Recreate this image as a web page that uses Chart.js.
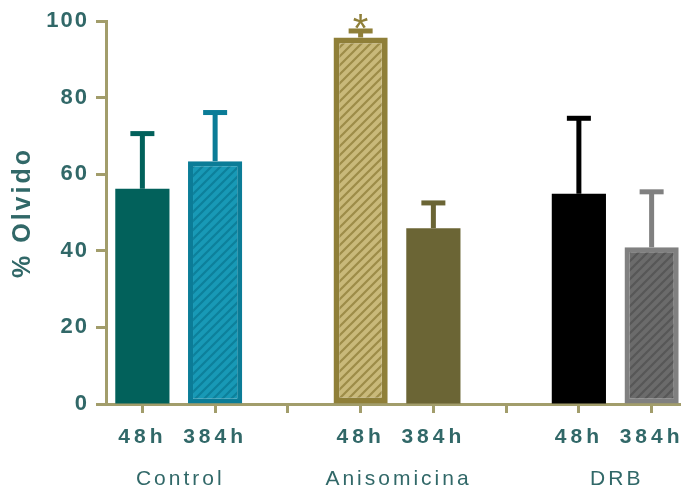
<!DOCTYPE html>
<html>
<head>
<meta charset="utf-8">
<script src="https://cdn.jsdelivr.net/npm/chart.js@4.4.0/dist/chart.umd.min.js"></script>
<style>
  html, body { margin: 0; padding: 0; background: #fff; overflow: hidden; width: 681px; height: 489px; }
  #wrap { position: absolute; left: 0; top: 0; width: 688px; height: 489px; }
</style>
</head>
<body>
<div id="wrap"><canvas id="c" width="688" height="489"></canvas></div>
<script>
// ---- data ----
const tickLabels = ['48h', '384h', '', '48h', '384h', '', '48h', '384h'];
const groupLabels = ['Control', 'Anisomicina', 'DRB'];
const groupCenters = [0.5, 3.5, 6.5];
const means = [56.2, 63.4, null, 95.7, 45.9, null, 54.9, 40.9];
const errUpper = [70.6, 76.1, null, 97.4, 52.5, null, 74.6, 55.4];
const significant = [false, false, false, true, false, false, false, false];
const yTicks = [0, 20, 40, 60, 80, 100];

// ---- styles ----
const TEXT = '#316868';
const AXIS = '#a29d6b';
const borderCols = ['#02615b', '#0b7c97', null, '#8f7f38', '#6b6535', null, '#000000', '#808080'];

function hatch(bg, fg) {
  const c = document.createElement('canvas');
  c.width = 9; c.height = 9;
  const x = c.getContext('2d');
  x.fillStyle = bg; x.fillRect(0, 0, 9, 9);
  x.strokeStyle = fg; x.lineWidth = 2.2;
  x.beginPath();
  x.moveTo(-1, 10); x.lineTo(10, -1);
  x.moveTo(-3, 3); x.lineTo(3, -3);
  x.moveTo(6, 12); x.lineTo(12, 6);
  x.stroke();
  return x.createPattern(c, 'repeat');
}
const fills = [
  '#02615b',
  hatch('#1899b6', '#0d809b'),
  null,
  hatch('#c9b97a', '#9d8c48'),
  '#6b6535',
  null,
  '#000000',
  hatch('#6b6b6b', '#575757')
];
const borderW = [0, 5, 0, 6, 0, 0, 0, 5];

function spaced(obj, name, sp) {
  const key = '__w_' + name;
  if (obj[key]) return;
  const orig = obj[name];
  obj[name] = function (...a) {
    const c = this.ctx;
    c.save(); c.letterSpacing = sp;
    const r = orig.apply(this, a);
    c.restore();
    return r;
  };
  obj[key] = true;
}

const extras = {
  id: 'extras',
  beforeDraw(chart) {
    spaced(chart.scales.x, 'drawLabels', '4px');
    spaced(chart.scales.y, 'drawLabels', '2px');
    spaced(chart.scales.y, 'drawTitle', '3px');
  },
  afterDatasetsDraw(chart) {
    const ctx = chart.ctx;
    const meta = chart.getDatasetMeta(0);
    const ys = chart.scales.y;
    ctx.save();
    means.forEach((m, i) => {
      if (m == null) return;
      const x = meta.data[i].x;
      const yb = ys.getPixelForValue(m);
      const yt = ys.getPixelForValue(errUpper[i]);
      ctx.fillStyle = borderCols[i];
      ctx.fillRect(x - 2.5, yt, 5, yb - yt);
      ctx.fillRect(x - 12, yt - 2.5, 24, 5);
      if (significant[i]) {
        ctx.font = '40px "Liberation Sans", Arial, sans-serif';
        ctx.textAlign = 'center';
        ctx.textBaseline = 'alphabetic';
        ctx.fillText('*', x, yt + 11);
      }
    });
    ctx.restore();
  },
  afterDraw(chart) {
    const ctx = chart.ctx;
    const xs = chart.scales.x;
    ctx.save();
    ctx.letterSpacing = '3px';
    ctx.fillStyle = TEXT;
    ctx.font = '21px "Liberation Sans", Arial, sans-serif';
    ctx.textAlign = 'center';
    ctx.textBaseline = 'alphabetic';
    groupLabels.forEach((g, i) => {
      ctx.fillText(g, xs.getPixelForValue(groupCenters[i]) + 1.5, 485);
    });
    ctx.restore();
  }
};

new Chart(document.getElementById('c'), {
  type: 'bar',
  data: {
    labels: tickLabels,
    datasets: [{
      data: means,
      backgroundColor: fills,
      borderColor: borderCols.map(c => c || '#000'),
      borderWidth: borderW,
      borderSkipped: false,
      barPercentage: 0.745,
      categoryPercentage: 1
    }]
  },
  options: {
    responsive: false,
    animation: false,
    devicePixelRatio: 1,
    layout: { padding: { top: 21, right: 0, bottom: 0, left: 0 } },
    plugins: { legend: { display: false }, tooltip: { enabled: false } },
    scales: {
      x: {
        type: 'category',
        offset: true,
        grid: { offset: false, drawOnChartArea: false, drawTicks: true, tickLength: 9, tickWidth: 3, color: AXIS },
        border: { display: true, color: AXIS, width: 3 },
        ticks: {
          autoSkip: false, maxRotation: 0, minRotation: 0, padding: 12,
          color: TEXT,
          font: { family: '"Liberation Sans", Arial, sans-serif', size: 21, weight: 'bold' }
        },
        afterFit(s) { s.height = 85; }
      },
      y: {
        min: 0, max: 100,
        afterBuildTicks(s) { s.ticks = yTicks.map(v => ({ value: v })); },
        grid: { drawOnChartArea: false, drawTicks: true, tickLength: 10, tickWidth: 3, color: AXIS },
        border: { display: true, color: AXIS, width: 3 },
        ticks: {
          padding: 7,
          color: TEXT,
          font: { family: '"Liberation Sans", Arial, sans-serif', size: 22, weight: 'bold' }
        },
        title: {
          display: true, text: '% Olvido', color: TEXT,
          padding: { top: 8, bottom: 0 },
          font: { family: '"Liberation Sans", Arial, sans-serif', size: 25, weight: 'bold' }
        },
        afterFit(s) { s.width = 106; }
      }
    }
  },
  plugins: [extras]
});
</script>
</body>
</html>
